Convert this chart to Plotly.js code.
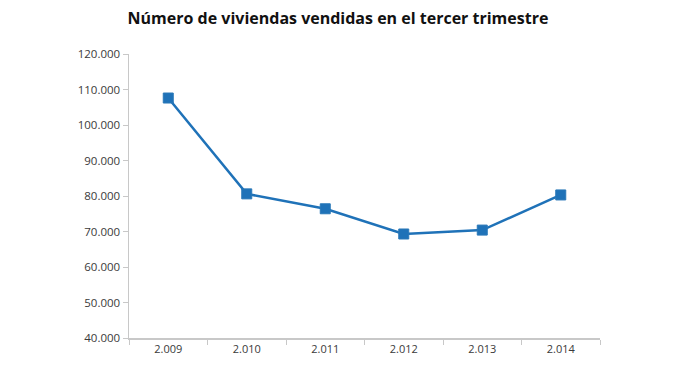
<!DOCTYPE html>
<html>
<head>
<meta charset="utf-8">
<script src="https://cdn.plot.ly/plotly-3.0.1.min.js"></script>
<style>html,body{margin:0;padding:0;background:#fff;}#chart{width:676px;height:376px;}</style>
</head>
<body>
<div id="chart"></div>
<script>
const years = ["2.009", "2.010", "2.011", "2.012", "2.013", "2.014"];
const sales = [107600, 80600, 76400, 69300, 70400, 80300];
const titleText = "Número de viviendas vendidas en el tercer trimestre";

const trace = {
  x: years,
  y: sales,
  type: "scatter",
  mode: "lines+markers",
  line: {color: "#1f72b8", width: 2.5},
  marker: {symbol: "square", size: 10, color: "#1f72b8", line: {color: "#2a78b8", width: 1}},
  hoverinfo: "x+y"
};

const layout = {
  width: 676, height: 376,
  margin: {l: 129, r: 76, t: 54, b: 38},
  paper_bgcolor: "#fff", plot_bgcolor: "#fff",
  separators: ",.",
  showlegend: false,
  title: {
    text: titleText,
    x: 0.5, xanchor: "center", y: 0.952, yanchor: "middle",
    font: {family: "Open Sans, sans-serif", size: 16, color: "#111", weight: "bold"}
  },
  xaxis: {
    type: "category",
    tickson: "boundaries",
    ticks: "outside", ticklen: 5, tickcolor: "#c8c8c8", tickwidth: 1,
    showline: true, linecolor: "#c8c8c8", linewidth: 1.5,
    showgrid: false, zeroline: false,
    tickfont: {family: "Open Sans, sans-serif", size: 11, color: "#3a3a3a"},
    range: [-0.5, 5.5]
  },
  yaxis: {
    range: [40000, 120000],
    dtick: 10000, tick0: 40000,
    tickformat: ",d",
    ticks: "outside", ticklen: 5, tickcolor: "#c8c8c8", tickwidth: 1,
    showline: true, linecolor: "#c8c8c8", linewidth: 1.5,
    showgrid: false, zeroline: false,
    tickfont: {family: "Open Sans, sans-serif", size: 11.5, color: "#3a3a3a"}
  }
};

Plotly.newPlot("chart", [trace], layout, {staticPlot: true, displayModeBar: false});
</script>
</body>
</html>
